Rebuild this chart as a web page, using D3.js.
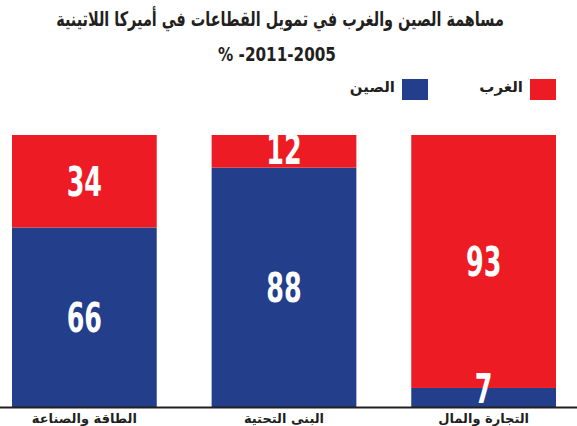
<html>
<head>
<meta charset="utf-8">
<script src="https://d3js.org/d3.v7.min.js"></script>
<style>
  body { margin: 0; background: #fff; }
  svg text { font-family: "DejaVu Sans", sans-serif; font-weight: bold; fill: #231f20; }
  svg text.num { fill: #fff; text-anchor: middle; }
</style>
</head>
<body>
<script>
  var categories = ["الطاقة والصناعة", "البنى التحتية", "التجارة والمال"];
  var china = [66, 88, 7];
  var west = [34, 12, 93];
  var seriesNames = ["الصين", "الغرب"];
  var colors = ["#233e8b", "#ed1c24"];

  var width = 577, height = 426;

  var svg = d3.select("body").append("svg")
      .attr("width", width)
      .attr("height", height);

  var x = d3.scaleBand()
      .domain(categories)
      .range([12, 556])
      .paddingInner(0.275);

  var y = d3.scaleLinear()
      .domain([0, 100])
      .range([407, 135]);

  // stacked: china at bottom, west on top
  var rows = categories.map(function (c, i) {
    return { cat: c, china: china[i], west: west[i] };
  });
  var stack = d3.stack().keys(["china", "west"])(rows);

  var layer = svg.selectAll("g.layer")
      .data(stack)
      .enter().append("g")
      .attr("class", "layer")
      .attr("fill", function (d, i) { return colors[i]; });

  layer.selectAll("rect")
      .data(function (d) { return d; })
      .enter().append("rect")
      .attr("x", function (d) { return x(d.data.cat); })
      .attr("y", function (d) { return y(d[1]); })
      .attr("width", x.bandwidth())
      .attr("height", function (d) { return y(d[0]) - y(d[1]); });

  // condensed white numbers, drawn after all rects
  var segs = [];
  stack.forEach(function (s) { s.forEach(function (d) { segs.push(d); }); });

  svg.append("g").selectAll("text")
      .data(segs)
      .enter().append("text")
      .attr("class", "num")
      .attr("font-size", 41)
      .attr("transform", function (d) {
        var cx = x(d.data.cat) + x.bandwidth() / 2;
        var base = Math.min((y(d[0]) + y(d[1])) / 2 + 15, y(d[0]) - 4);
        return "translate(" + cx + "," + base + ") scale(0.62,1)";
      })
      .text(function (d) { return d[1] - d[0]; });

  // baseline
  svg.append("line")
      .attr("x1", 0).attr("x2", width)
      .attr("y1", y(0) + 0.5).attr("y2", y(0) + 0.5)
      .attr("stroke", "#231f20")
      .attr("stroke-width", 2);

  // category labels
  svg.selectAll("text.cat")
      .data(categories)
      .enter().append("text")
      .attr("class", "cat")
      .attr("x", function (d) { return x(d) + x.bandwidth() / 2; })
      .attr("y", 423)
      .attr("text-anchor", "middle")
      .attr("font-size", 13)
      .text(function (d) { return d; });

  // title, squeezed to the reference width
  function squeezed(txt, cx, cy, size, w, dir) {
    var t = svg.append("text")
        .attr("text-anchor", "middle")
        .attr("font-size", size)
        .attr("direction", dir)
        .text(txt);
    var k = Math.min(1, w / t.node().getComputedTextLength());
    t.attr("transform", "translate(" + cx + "," + cy + ") scale(" + k + ",1)");
  }
  squeezed("مساهمة الصين والغرب في تمويل القطاعات في أميركا اللاتينية", 280, 26, 20, 448, "rtl");
  squeezed("% -2011-2005", 277, 61, 20, 118, "ltr");

  // legend
  var legend = [
    { name: seriesNames[1], color: colors[1], x: 530 },
    { name: seriesNames[0], color: colors[0], x: 402 }
  ];
  var lg = svg.selectAll("g.legend")
      .data(legend)
      .enter().append("g")
      .attr("class", "legend")
      .attr("transform", function (d) { return "translate(" + d.x + ",79)"; });
  lg.append("rect")
      .attr("width", 26).attr("height", 21)
      .attr("fill", function (d) { return d.color; });
  lg.append("text")
      .attr("x", -7).attr("y", 13)
      .attr("text-anchor", "end")
      .attr("font-size", 15)
      .text(function (d) { return d.name; });
</script>
</body>
</html>
